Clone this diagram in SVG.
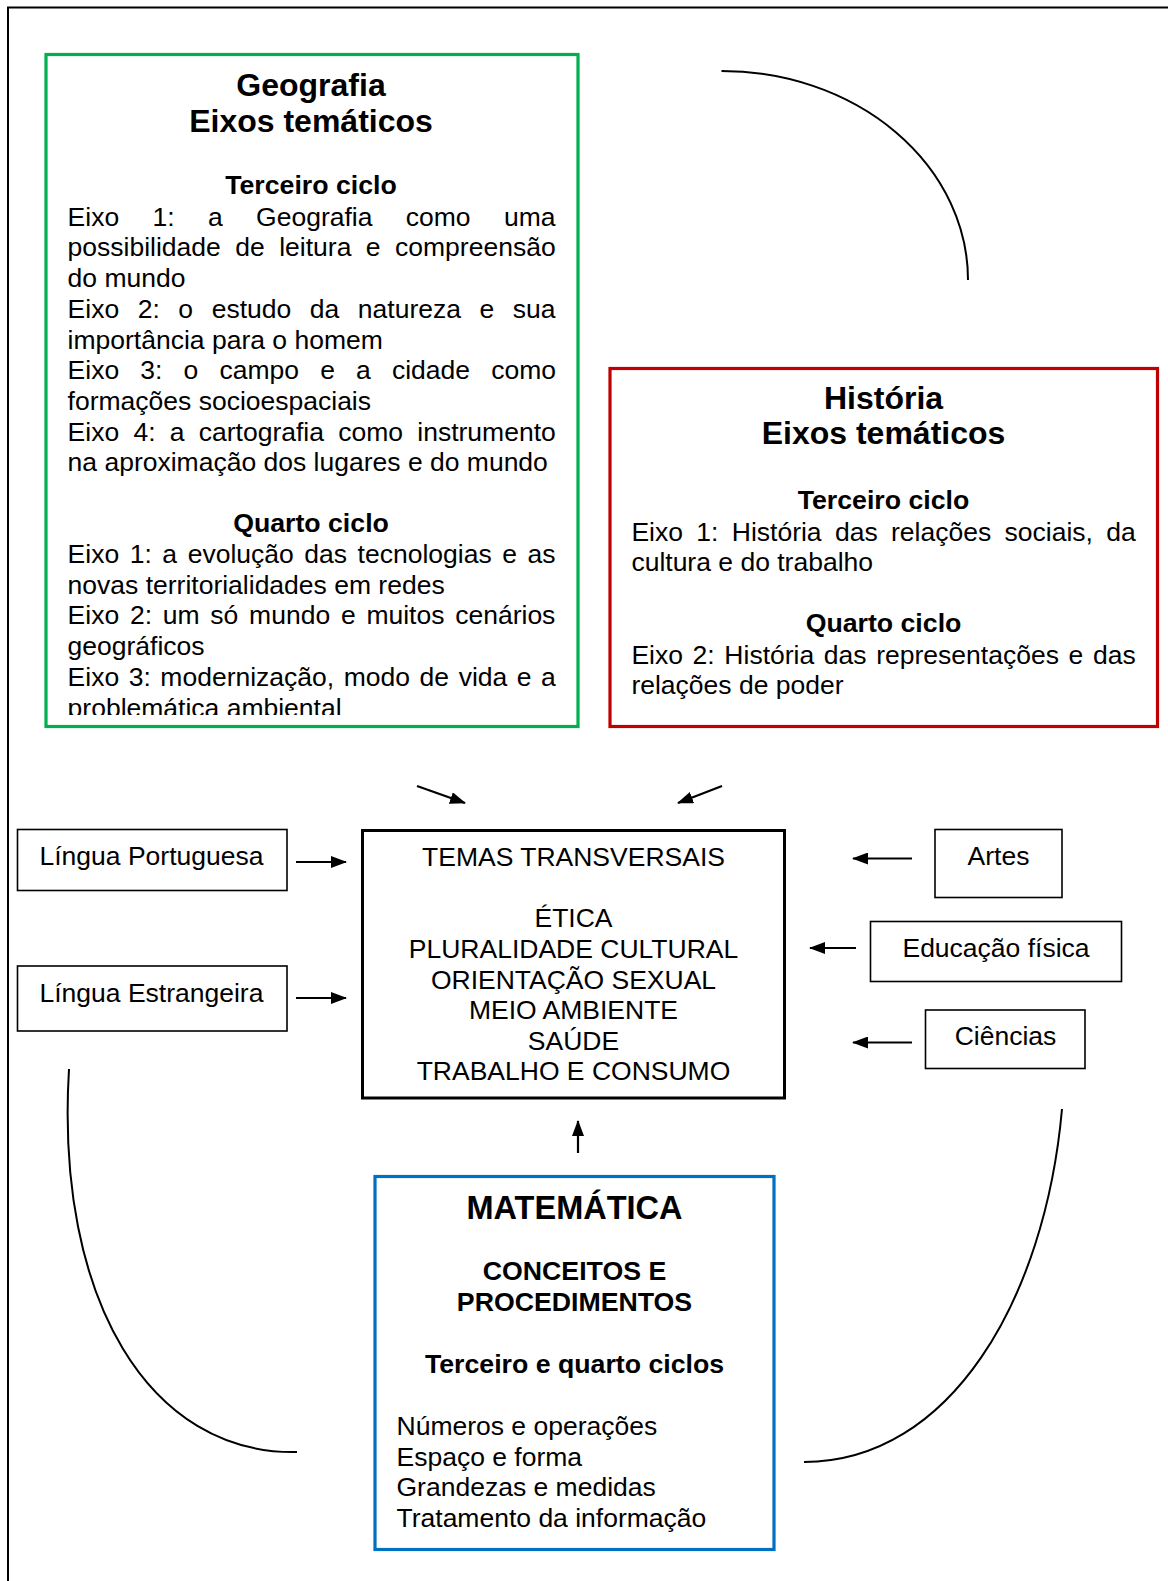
<svg xmlns="http://www.w3.org/2000/svg" width="1168" height="1581" viewBox="0 0 1168 1581">
<style>
text{font-family:"Liberation Sans",Arial,sans-serif;fill:#000;}
.t{font-size:32px;font-weight:bold;text-anchor:middle;}
.h{font-size:26.7px;font-weight:bold;text-anchor:middle;}
.b{font-size:26.5px;}
.c{font-size:26.5px;text-anchor:middle;}
.box{fill:#fff;stroke:#000;stroke-width:1.6;}
.conn{stroke:#000;stroke-width:2.2;fill:none;}
.arc{stroke:#000;stroke-width:2;fill:none;}
</style>
<defs>
<marker id="ah" markerUnits="userSpaceOnUse" markerWidth="16" markerHeight="12" refX="15" refY="6" orient="auto">
<path d="M0,0 L16,6 L0,12 z" fill="#000"/>
</marker>
<clipPath id="gclip"><rect x="40" y="50" width="545" height="665"/></clipPath>
</defs>
<rect width="1168" height="1581" fill="#fff"/>
<path d="M8,1581 V7.5 H1168" fill="none" stroke="#000" stroke-width="2"/>

<g id="geografia">
<rect x="46" y="54.5" width="532" height="672" fill="none" stroke="#00B050" stroke-width="3.2"/>
<g clip-path="url(#gclip)">
<text class="t" x="311" y="96">Geografia</text>
<text class="t" x="311" y="131.5">Eixos temáticos</text>
<text class="h" x="311" y="194">Terceiro ciclo</text>
<text class="b" x="67.6" y="225.7" word-spacing="26">Eixo 1: a Geografia como uma</text>
<text class="b" x="67.6" y="256.4" word-spacing="7.1">possibilidade de leitura e compreensão</text>
<text class="b" x="67.6" y="287.1">do mundo</text>
<text class="b" x="67.6" y="317.8" word-spacing="11.2">Eixo 2: o estudo da natureza e sua</text>
<text class="b" x="67.6" y="348.5">importância para o homem</text>
<text class="b" x="67.6" y="379.2" word-spacing="13.8">Eixo 3: o campo e a cidade como</text>
<text class="b" x="67.6" y="409.9">formações socioespaciais</text>
<text class="b" x="67.6" y="440.6" word-spacing="6.9">Eixo 4: a cartografia como instrumento</text>
<text class="b" x="67.6" y="471.3">na aproximação dos lugares e do mundo</text>
<text class="h" x="311" y="532">Quarto ciclo</text>
<text class="b" x="67.6" y="563" word-spacing="3.2">Eixo 1: a evolução das tecnologias e as</text>
<text class="b" x="67.6" y="593.7">novas territorialidades em redes</text>
<text class="b" x="67.6" y="624.4" word-spacing="3.4">Eixo 2: um só mundo e muitos cenários</text>
<text class="b" x="67.6" y="655.1">geográficos</text>
<text class="b" x="67.6" y="685.8" word-spacing="2.2">Eixo 3: modernização, modo de vida e a</text>
<text class="b" x="67.6" y="716.5">problemática ambiental</text>
</g>
</g>

<g id="historia">
<rect x="610" y="368.5" width="547.5" height="358" fill="none" stroke="#C00000" stroke-width="3.2"/>
<text class="t" x="883.5" y="408.5">História</text>
<text class="t" x="883.5" y="444">Eixos temáticos</text>
<text class="h" x="883.5" y="509">Terceiro ciclo</text>
<text class="b" x="631.4" y="540.6" word-spacing="6">Eixo 1: História das relações sociais, da</text>
<text class="b" x="631.4" y="571">cultura e do trabalho</text>
<text class="h" x="883.5" y="632">Quarto ciclo</text>
<text class="b" x="631.4" y="663.5" word-spacing="2.3">Eixo 2: História das representações e das</text>
<text class="b" x="631.4" y="694">relações de poder</text>
</g>

<g id="lingua-portuguesa">
<rect class="box" x="17.5" y="829.5" width="269.5" height="61"/>
<text class="b" x="39.5" y="865">Língua Portuguesa</text>
</g>
<g id="lingua-estrangeira">
<rect class="box" x="17.5" y="966" width="269.5" height="65"/>
<text class="b" x="39.5" y="1002">Língua Estrangeira</text>
</g>

<g id="temas-transversais">
<rect x="362.5" y="830.5" width="422" height="267.5" fill="#fff" stroke="#000" stroke-width="3"/>
<text class="c" x="573.5" y="866">TEMAS TRANSVERSAIS</text>
<text class="c" x="573.5" y="927">ÉTICA</text>
<text class="c" x="573.5" y="958">PLURALIDADE CULTURAL</text>
<text class="c" x="573.5" y="988.5">ORIENTAÇÃO SEXUAL</text>
<text class="c" x="573.5" y="1019">MEIO AMBIENTE</text>
<text class="c" x="573.5" y="1049.5">SAÚDE</text>
<text class="c" x="573.5" y="1080">TRABALHO E CONSUMO</text>
</g>

<g id="artes">
<rect class="box" x="935" y="829.5" width="127" height="68"/>
<text class="c" x="998.5" y="865">Artes</text>
</g>
<g id="educacao-fisica">
<rect class="box" x="870.5" y="921.5" width="251" height="60"/>
<text class="c" x="996" y="957">Educação física</text>
</g>
<g id="ciencias">
<rect class="box" x="925.5" y="1010" width="159.5" height="58.5"/>
<text class="c" x="1005.5" y="1045">Ciências</text>
</g>

<g id="matematica">
<rect x="375" y="1176.5" width="399" height="373" fill="none" stroke="#0070C0" stroke-width="3.2"/>
<text class="t" x="574.5" y="1219" style="font-size:32.5px">MATEMÁTICA</text>
<text class="h" x="574.5" y="1280">CONCEITOS E</text>
<text class="h" x="574.5" y="1311">PROCEDIMENTOS</text>
<text class="h" x="574.5" y="1372.5">Terceiro e quarto ciclos</text>
<text class="b" x="396.5" y="1434.5">Números e operações</text>
<text class="b" x="396.5" y="1465.5">Espaço e forma</text>
<text class="b" x="396.5" y="1496">Grandezas e medidas</text>
<text class="b" x="396.5" y="1527">Tratamento da informação</text>
</g>

<g id="connectors">
<line class="conn" x1="417" y1="786" x2="465" y2="803" marker-end="url(#ah)"/>
<line class="conn" x1="722" y1="786" x2="678" y2="803" marker-end="url(#ah)"/>
<line class="conn" x1="296" y1="862" x2="346" y2="862" marker-end="url(#ah)"/>
<line class="conn" x1="296" y1="998" x2="346" y2="998" marker-end="url(#ah)"/>
<line class="conn" x1="912" y1="858.5" x2="853" y2="858.5" marker-end="url(#ah)"/>
<line class="conn" x1="856" y1="948" x2="810" y2="948" marker-end="url(#ah)"/>
<line class="conn" x1="912" y1="1042.5" x2="853" y2="1042.5" marker-end="url(#ah)"/>
<line class="conn" x1="578" y1="1153" x2="578" y2="1121" marker-end="url(#ah)"/>
<path class="arc" d="M721.5,71 A246.5,209 0 0 1 968,280"/>
<path class="arc" d="M69,1069 C55,1300 150,1455 297,1452"/>
<path class="arc" d="M1062,1109 C1045,1300 950,1462 804,1462"/>
</g>
</svg>
